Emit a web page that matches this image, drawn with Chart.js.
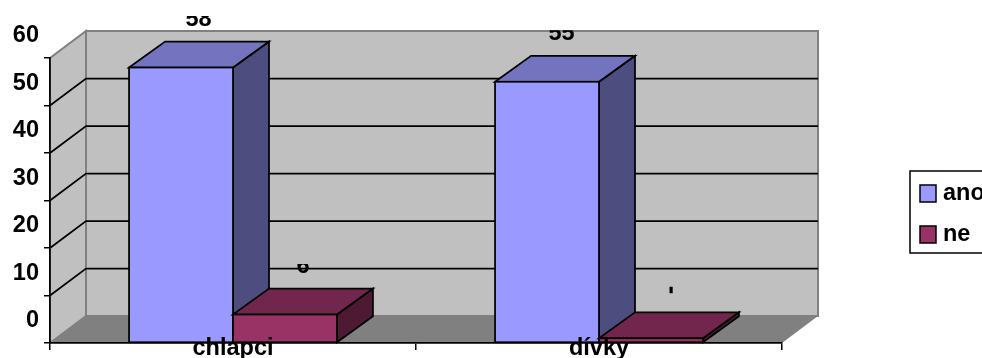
<!DOCTYPE html>
<html><head><meta charset="utf-8">
<style>html,body{margin:0;padding:0;background:#fff;overflow:hidden}canvas{display:block}</style>
<script src="https://cdn.jsdelivr.net/npm/chart.js@4"></script></head>
<body><canvas id="c" width="982" height="358"></canvas>
<script>
const categories = ['chlapci', 'dívky'];
const anoValues = [58, 55];
const neValues = [6, 1];
const yTicks = [0, 10, 20, 30, 40, 50, 60];
const FONT = 'bold 23.5px "Liberation Sans", Arial, sans-serif';
const DX = 36, DY = 27, BAR_DX = 36, BAR_DY = 26;
const LABEL_VISIBLE = [[10, 9], [10, 10]];
const LABEL_DX = [[17.5, 18], [14.5, 19.5]];
const LABEL_CUT = [[8, 8], [8, -3.5]];

function poly(ctx, pts, fill, stroke, lw) {
  ctx.beginPath();
  pts.forEach((p, i) => i ? ctx.lineTo(p[0], p[1]) : ctx.moveTo(p[0], p[1]));
  ctx.closePath();
  if (fill) { ctx.fillStyle = fill; ctx.fill(); }
  if (stroke) { ctx.strokeStyle = stroke; ctx.lineWidth = lw; ctx.lineJoin = 'miter'; ctx.stroke(); }
}
const walls = {
  id: 'walls',
  beforeDraw(chart) {
    const { ctx, chartArea: a, scales: { y } } = chart;
    ctx.save();
    poly(ctx, [[a.left, a.bottom], [a.left + DX, a.bottom - DY], [a.right + DX, a.bottom - DY], [a.right, a.bottom]], '#808080');
    poly(ctx, [[a.left, a.bottom], [a.left + DX, a.bottom - DY], [a.left + DX, a.top - DY], [a.left, a.top]], '#c0c0c0', '#808080', 2);
    poly(ctx, [[a.left + DX, a.bottom - DY], [a.left + DX, a.top - DY], [a.right + DX, a.top - DY], [a.right + DX, a.bottom - DY]], '#c0c0c0', '#808080', 2);
    ctx.strokeStyle = '#000'; ctx.lineWidth = 1.75;
    yTicks.slice(1, -1).forEach(v => {
      const p = y.getPixelForValue(v);
      ctx.beginPath();
      ctx.moveTo(a.left, p); ctx.lineTo(a.left + DX, p - DY); ctx.lineTo(a.right + DX, p - DY);
      ctx.stroke();
    });
    ctx.restore();
  },
  afterDatasetsDraw(chart) {
    const ctx = chart.ctx;
    ctx.save();
    chart.data.datasets.forEach((ds, di) => {
      chart.getDatasetMeta(di).data.forEach(b => {
        const l = b.x - b.width / 2, r = b.x + b.width / 2, t = b.y, base = b.base;
        poly(ctx, [[r, t], [r + BAR_DX, t - BAR_DY], [r + BAR_DX, base - BAR_DY], [r, base]], ds.sideColor, '#000', 1.75);
        poly(ctx, [[l, t], [l + BAR_DX, t - BAR_DY], [r + BAR_DX, t - BAR_DY], [r, t]], ds.topColor, '#000', 1.75);
        b.draw(ctx);
        ctx.strokeStyle = '#000'; ctx.lineWidth = 1.75;
        ctx.strokeRect(l, t, r - l, base - t);
      });
    });
    chart.data.datasets.forEach((ds, di) => {
      chart.getDatasetMeta(di).data.forEach((b, i) => {
        const base = b.y - BAR_DY - 15.5, cx = b.x + LABEL_DX[i][di];
        ctx.save();
        ctx.beginPath();
        ctx.rect(cx - 30, base - LABEL_VISIBLE[i][di], 60, LABEL_VISIBLE[i][di] + LABEL_CUT[i][di]);
        ctx.clip();
        ctx.font = FONT; ctx.fillStyle = '#000'; ctx.textAlign = 'center'; ctx.textBaseline = 'alphabetic';
        ctx.fillText(String(ds.data[i]), cx, base);
        ctx.restore();
      });
    });
    ctx.restore();
  },
  afterDraw(chart) {
    const ctx = chart.ctx;
    ctx.save();
    poly(ctx, [[910, 171], [990, 171], [990, 253], [910, 253]], '#fff', '#000', 1.5);
    chart.data.datasets.forEach((ds, i) => {
      const cy = 193.5 + i * 41;
      ctx.fillStyle = ds.backgroundColor; ctx.strokeStyle = '#000'; ctx.lineWidth = 1.5;
      ctx.fillRect(920, cy - 8.5, 16, 17); ctx.strokeRect(920, cy - 8.5, 16, 17);
      ctx.font = FONT; ctx.fillStyle = '#000'; ctx.textAlign = 'left'; ctx.textBaseline = 'middle';
      ctx.fillText(ds.label, 943, cy);
    });
    ctx.restore();
  }
};
new Chart(document.getElementById('c'), {
  type: 'bar',
  data: {
    labels: categories,
    datasets: [
      { label: 'ano', data: anoValues, backgroundColor: '#9999ff', topColor: '#7373bf', sideColor: '#4d4d80', borderWidth: 0 },
      { label: 'ne', data: neValues, backgroundColor: '#993366', topColor: '#73264d', sideColor: '#4d1933', borderWidth: 0 }
    ]
  },
  options: {
    responsive: false, animation: false, events: [],
    layout: { padding: { left: 0, right: 200, top: 58, bottom: 0 } },
    categoryPercentage: 0.568, barPercentage: 1,
    plugins: { legend: { display: false }, tooltip: { enabled: false }, title: { display: false } },
    scales: {
      x: {
        grid: { drawOnChartArea: false, tickLength: 7, color: '#000', lineWidth: 1.5 },
        border: { color: '#000', width: 1.75 },
        ticks: { color: '#000', z: 1, mirror: true, font: { family: '"Liberation Sans", Arial, sans-serif', weight: 'bold', size: 23.5 }, padding: -20, maxRotation: 0, autoSkip: false },
        afterFit(s) { s.height = 15; s.paddingLeft = 0; s.paddingRight = 0; }
      },
      y: {
        min: 0, max: 60,
        afterBuildTicks(s) { s.ticks = yTicks.map(v => ({ value: v })); },
        grid: { drawOnChartArea: false, tickLength: 6, color: '#000', lineWidth: 1.5 },
        border: { color: '#000', width: 1.75 },
        ticks: {
          color: '#000', padding: 5, autoSkip: false,
          font: { family: '"Liberation Sans", Arial, sans-serif', weight: 'bold', size: 23.5, lineHeight: '44px' },
          callback: v => [String(v), '']
        },
        afterFit(s) { s.width = 50; s.paddingTop = 0; s.paddingBottom = 0; }
      }
    }
  },
  plugins: [walls]
});
</script></body></html>
